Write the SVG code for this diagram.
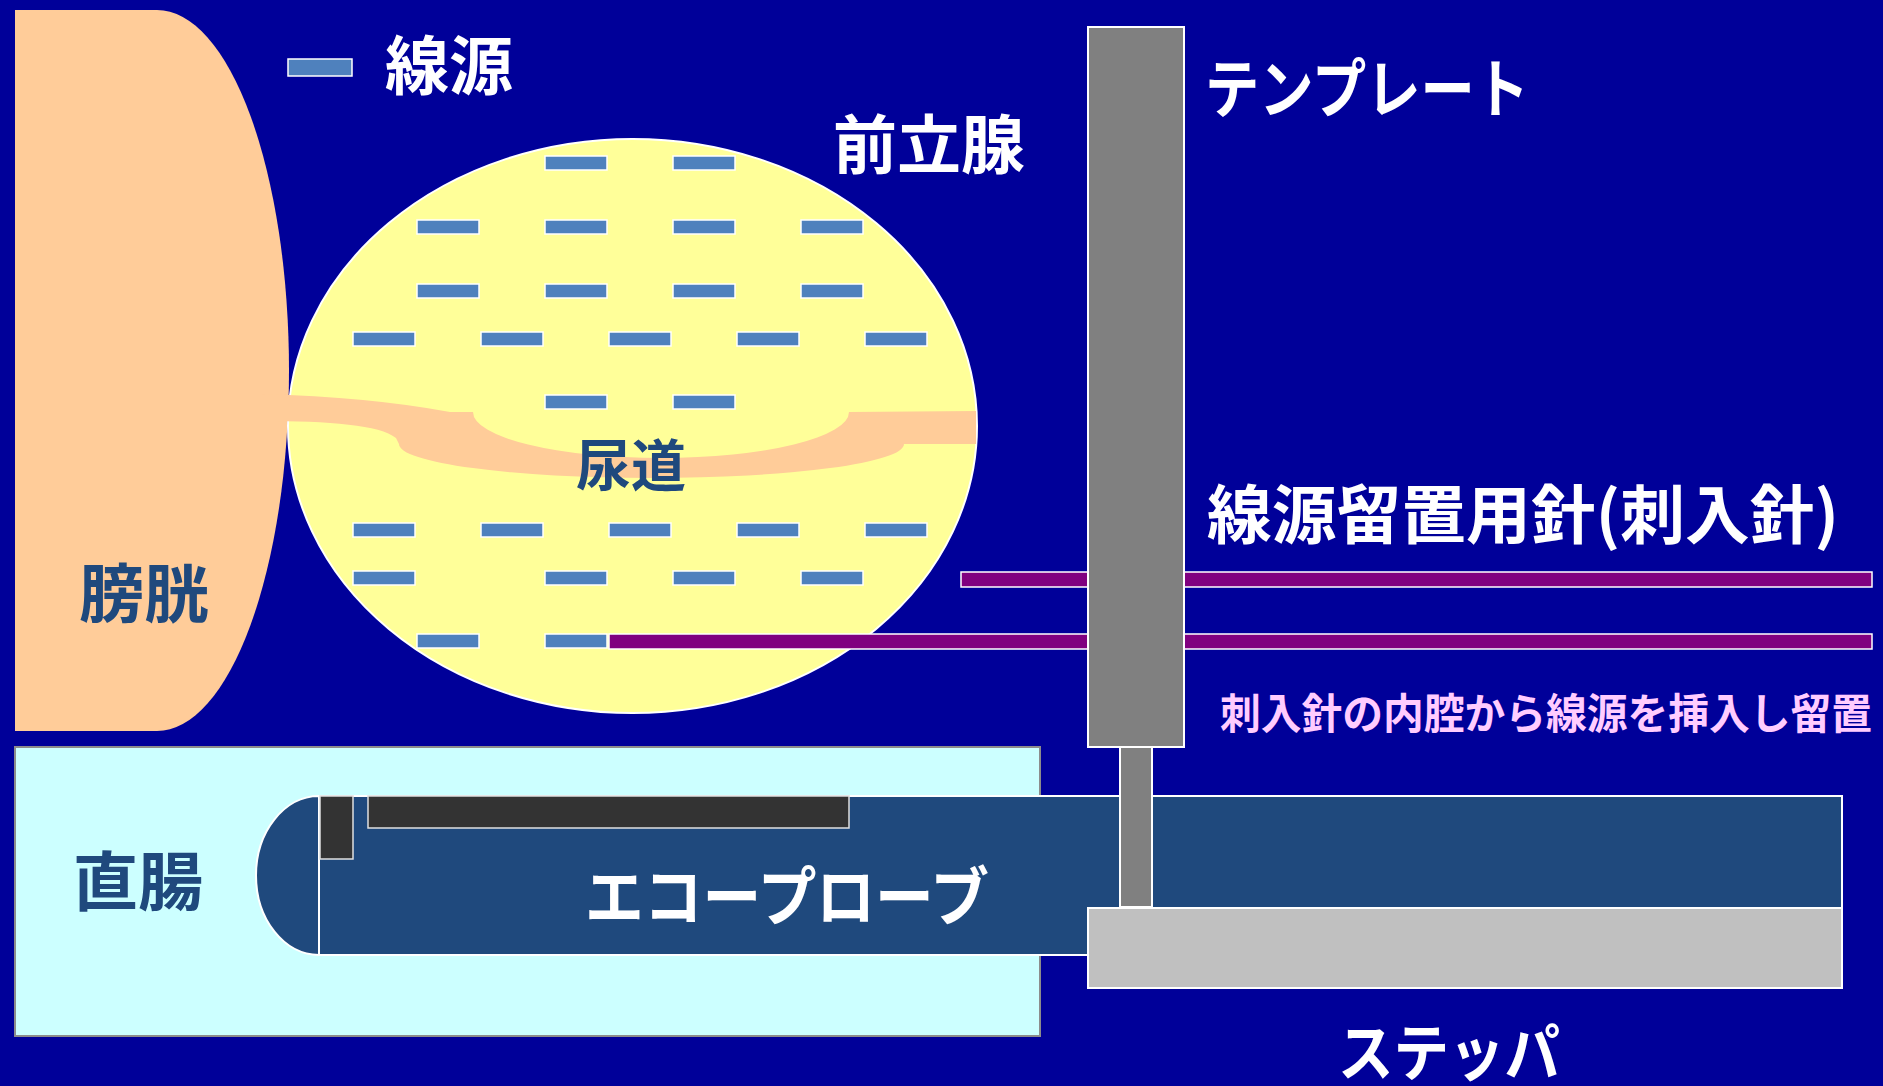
<svg xmlns="http://www.w3.org/2000/svg" xmlns:xlink="http://www.w3.org/1999/xlink" width="1883" height="1086" viewBox="0 0 1883 1086">
  <style>
    .lbl { font-family: "Noto Sans CJK JP", "Noto Sans", sans-serif; font-weight: 700; }
    .white { fill: #ffffff; }
    .dark { fill: #1f497d; }
    .pink { fill: #ffccff; }
    .seed { fill: #4f81bd; stroke: #ffffff; stroke-width: 1.5; }
    .needle { fill: #800080; stroke: #ffffff; stroke-width: 1.5; }
    .tissue { fill: #ffcc99; }
    .outline { stroke: #ffffff; stroke-width: 2; }
    .inset { fill: #333333; stroke: #e0e0e0; stroke-width: 1.5; }
  </style>
  <defs>
    <rect id="seed" width="62" height="14" class="seed"/>
  </defs>

  <rect width="1883" height="1086" fill="#000099"/>

  <!-- bladder: flat left side with an elliptical right side -->
  <g id="bladder">
    <path class="tissue" d="M15 10 L157 10 A132 360.5 0 0 1 157 731 L15 731 Z"/>
    <text class="lbl dark" x="79" y="617" font-size="64" textLength="130" lengthAdjust="spacingAndGlyphs">膀胱</text>
  </g>

  <!-- prostate gland -->
  <g id="prostate">
    <ellipse cx="632.5" cy="426" rx="344.5" ry="287" fill="#ffff99" class="outline"/>
    <text class="lbl white" x="833" y="168" font-size="64" textLength="192" lengthAdjust="spacingAndGlyphs">前立腺</text>
  </g>

  <!-- urethra running through the prostate -->
  <g id="urethra">
    <path class="tissue" d="M262 394 Q370 397 450 412 L473 412 A188 46 0 0 0 849 412 L976 411 L976 444 L904 444 A252.5 34 0 0 1 399 444 L396 438 C380 425 330 421 262 421 Z"/>
    <text class="lbl dark" x="576" y="486" font-size="56" textLength="110" lengthAdjust="spacingAndGlyphs">尿道</text>
  </g>

  <!-- implanted seeds -->
  <g id="seeds">
    <use xlink:href="#seed" x="545" y="156"/>
    <use xlink:href="#seed" x="673" y="156"/>

    <use xlink:href="#seed" x="417" y="220"/>
    <use xlink:href="#seed" x="545" y="220"/>
    <use xlink:href="#seed" x="673" y="220"/>
    <use xlink:href="#seed" x="801" y="220"/>

    <use xlink:href="#seed" x="417" y="284"/>
    <use xlink:href="#seed" x="545" y="284"/>
    <use xlink:href="#seed" x="673" y="284"/>
    <use xlink:href="#seed" x="801" y="284"/>

    <use xlink:href="#seed" x="353" y="332"/>
    <use xlink:href="#seed" x="481" y="332"/>
    <use xlink:href="#seed" x="609" y="332"/>
    <use xlink:href="#seed" x="737" y="332"/>
    <use xlink:href="#seed" x="865" y="332"/>

    <use xlink:href="#seed" x="545" y="395"/>
    <use xlink:href="#seed" x="673" y="395"/>

    <use xlink:href="#seed" x="353" y="523"/>
    <use xlink:href="#seed" x="481" y="523"/>
    <use xlink:href="#seed" x="609" y="523"/>
    <use xlink:href="#seed" x="737" y="523"/>
    <use xlink:href="#seed" x="865" y="523"/>

    <use xlink:href="#seed" x="353" y="571"/>
    <use xlink:href="#seed" x="545" y="571"/>
    <use xlink:href="#seed" x="673" y="571"/>
    <use xlink:href="#seed" x="801" y="571"/>

    <use xlink:href="#seed" x="417" y="634"/>
    <use xlink:href="#seed" x="545" y="634"/>
  </g>

  <!-- legend -->
  <g id="legend">
    <rect x="288" y="59" width="64" height="17" class="seed"/>
    <text class="lbl white" x="385" y="89" font-size="64" textLength="128" lengthAdjust="spacingAndGlyphs">線源</text>
  </g>

  <!-- implant needles -->
  <g id="needles">
    <rect x="961" y="572" width="911" height="15" class="needle"/>
    <rect x="609" y="634" width="1263" height="15" class="needle"/>
    <text class="lbl white" x="1207" y="538" font-size="64" textLength="632" lengthAdjust="spacingAndGlyphs">線源留置用針(刺入針)</text>
    <text class="lbl pink" x="1220" y="729" font-size="42" textLength="652" lengthAdjust="spacingAndGlyphs">刺入針の内腔から線源を挿入し留置</text>
  </g>

  <!-- rectum -->
  <g id="rectum">
    <rect x="15" y="747" width="1025" height="289" fill="#ccffff" stroke="#8c8c8c" stroke-width="2"/>
    <text class="lbl dark" x="73" y="905" font-size="64" textLength="130" lengthAdjust="spacingAndGlyphs">直腸</text>
  </g>

  <!-- ultrasound probe -->
  <g id="probe">
    <rect x="319" y="796" width="1523" height="159" fill="#1f497d" class="outline" stroke-width="1.5"/>
    <path d="M319 796 A63 79.5 0 0 0 319 955 Z" fill="#1f497d" class="outline" stroke-width="1.5"/>
    <rect x="320" y="796" width="33" height="63" class="inset"/>
    <rect x="368" y="796" width="481" height="32" class="inset"/>
    <text class="lbl white" x="585" y="920" font-size="64" textLength="404" lengthAdjust="spacingAndGlyphs">エコープローブ</text>
  </g>

  <!-- template grid plate -->
  <g id="template">
    <rect x="1088" y="27" width="96" height="720" fill="#808080" class="outline"/>
    <text class="lbl white" x="1205" y="112" font-size="64" font-weight="400" textLength="324" lengthAdjust="spacingAndGlyphs">テンプレート</text>
  </g>

  <!-- post linking the template to the stepper -->
  <g id="connectors">
    <rect x="1120" y="747" width="32" height="160" fill="#808080" class="outline"/>
  </g>

  <!-- stepper -->
  <g id="stepper">
    <rect x="1088" y="908" width="754" height="80" fill="#c0c0c0" class="outline"/>
    <text class="lbl white" x="1338" y="1076" font-size="62" textLength="222" lengthAdjust="spacingAndGlyphs">ステッパ</text>
  </g>
</svg>
